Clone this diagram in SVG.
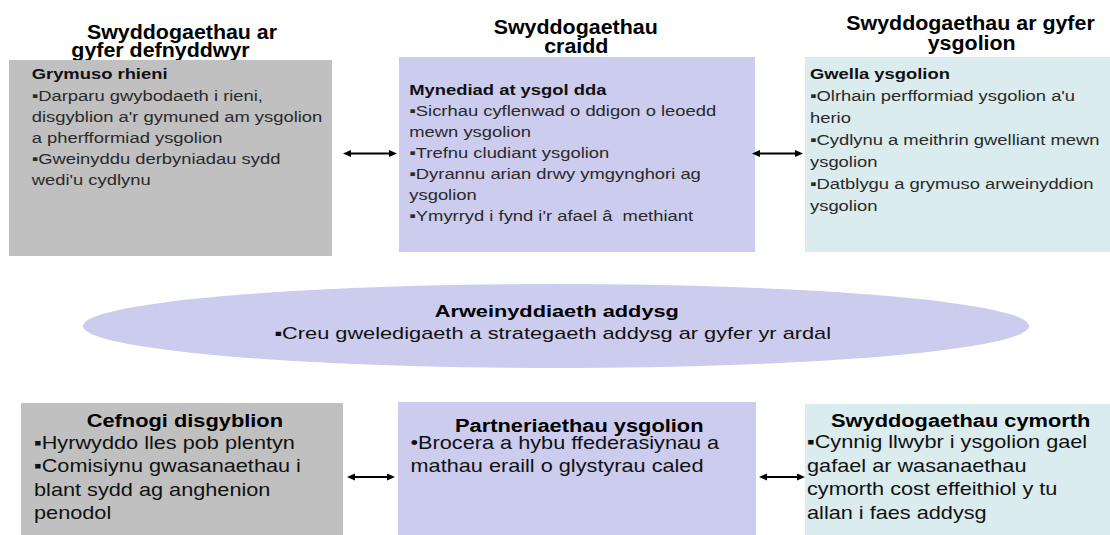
<svg xmlns="http://www.w3.org/2000/svg" width="1110" height="535" viewBox="0 0 1110 535">
  <defs>
    <style>
      text { font-family: "Liberation Sans", Arial, sans-serif; }
      .ttl { font-size: 20px; font-weight: bold; fill: #000; }
      .hd { font-size: 15px; font-weight: bold; fill: #111; }
      .bd { font-size: 15px; fill: #2a2a2a; }
      .hd2 { font-size: 18.5px; font-weight: bold; fill: #000; }
      .bd2 { font-size: 18.5px; fill: #111; }
      .elh { font-size: 17px; font-weight: bold; fill: #000; }
      .elb { font-size: 17px; fill: #111; }
      .grey { fill: #c0c0c0; }
      .lav { fill: #ccccee; }
      .cyan { fill: #daecee; }
      .link { stroke: #000; stroke-width: 2; fill: none; marker-start: url(#head); marker-end: url(#head); }
    </style>
    <marker id="head" markerUnits="userSpaceOnUse" markerWidth="9" markerHeight="8" refX="1" refY="3.5" orient="auto-start-reverse">
      <path d="M0,0 L8,3.5 L0,7 z" fill="#000"/>
    </marker>
  </defs>

  <rect width="1110" height="535" fill="#fff"/>

  <!-- column headings -->
  <g id="heading-users">
    <text class="ttl" transform="translate(182,39) scale(1.07,1)" text-anchor="middle">Swyddogaethau ar</text>
    <text class="ttl" transform="translate(160.5,57) scale(1.07,1)" text-anchor="middle">gyfer defnyddwyr</text>
  </g>
  <g id="heading-core">
    <text class="ttl" transform="translate(575.7,34) scale(1.07,1)" text-anchor="middle">Swyddogaethau</text>
    <text class="ttl" transform="translate(576.3,53) scale(1.07,1)" text-anchor="middle">craidd</text>
  </g>
  <g id="heading-schools">
    <text class="ttl" transform="translate(970.5,29.5) scale(1.07,1)" text-anchor="middle">Swyddogaethau ar gyfer</text>
    <text class="ttl" transform="translate(971.7,50) scale(1.07,1)" text-anchor="middle">ysgolion</text>
  </g>

  <!-- top row -->
  <g id="parents">
    <rect class="grey" x="9" y="60" width="323" height="196"/>
    <g transform="translate(31.7,0) scale(1.227,1)">
      <text class="hd" y="79">Grymuso rhieni</text>
      <text class="bd" y="101">▪Darparu gwybodaeth i rieni,</text>
      <text class="bd" y="122">disgyblion a'r gymuned am ysgolion</text>
      <text class="bd" y="143">a pherfformiad ysgolion</text>
      <text class="bd" y="164">▪Gweinyddu derbyniadau sydd</text>
      <text class="bd" y="185">wedi'u cydlynu</text>
    </g>
  </g>

  <g id="access">
    <rect class="lav" x="399" y="57" width="356" height="195"/>
    <g transform="translate(409.3,0) scale(1.227,1)">
      <text class="hd" y="95">Mynediad at ysgol dda</text>
      <text class="bd" y="116">▪Sicrhau cyflenwad o ddigon o leoedd</text>
      <text class="bd" y="137">mewn ysgolion</text>
      <text class="bd" y="158">▪Trefnu cludiant ysgolion</text>
      <text class="bd" y="179">▪Dyrannu arian drwy ymgynghori ag</text>
      <text class="bd" y="200">ysgolion</text>
      <text class="bd" y="221" xml:space="preserve">▪Ymyrryd i fynd i'r afael â  methiant</text>
    </g>
  </g>

  <g id="improve">
    <rect class="cyan" x="805" y="57" width="305" height="195"/>
    <g transform="translate(810,0) scale(1.227,1)">
      <text class="hd" y="79">Gwella ysgolion</text>
      <text class="bd" y="101">▪Olrhain perfformiad ysgolion a'u</text>
      <text class="bd" y="123">herio</text>
      <text class="bd" y="145">▪Cydlynu a meithrin gwelliant mewn</text>
      <text class="bd" y="167">ysgolion</text>
      <text class="bd" y="189">▪Datblygu a grymuso arweinyddion</text>
      <text class="bd" y="211">ysgolion</text>
    </g>
  </g>

  <!-- central leadership ellipse -->
  <g id="leadership">
    <ellipse class="lav" cx="556" cy="326" rx="473" ry="42"/>
    <text class="elh" transform="translate(556.8,317) scale(1.28,1)" text-anchor="middle">Arweinyddiaeth addysg</text>
    <text class="elb" transform="translate(552.7,338.5) scale(1.28,1)" text-anchor="middle">▪Creu gweledigaeth a strategaeth addysg ar gyfer yr ardal</text>
  </g>

  <!-- bottom row -->
  <g id="pupils">
    <rect class="grey" x="21" y="403" width="322" height="132"/>
    <text class="hd2" transform="translate(86.7,427) scale(1.18,1)">Cefnogi disgyblion</text>
    <g transform="translate(34,0) scale(1.173,1)">
      <text class="bd2" y="449">▪Hyrwyddo lles pob plentyn</text>
      <text class="bd2" y="472.5">▪Comisiynu gwasanaethau i</text>
      <text class="bd2" y="496">blant sydd ag anghenion</text>
      <text class="bd2" y="519.5">penodol</text>
    </g>
  </g>

  <g id="partnerships">
    <rect class="lav" x="398" y="402" width="358" height="133"/>
    <text class="hd2" transform="translate(455,432) scale(1.18,1)">Partneriaethau ysgolion</text>
    <g transform="translate(410.5,0) scale(1.173,1)">
      <text class="bd2" y="449">•Brocera a hybu ffederasiynau a</text>
      <text class="bd2" y="472.5">mathau eraill o glystyrau caled</text>
    </g>
  </g>

  <g id="support">
    <rect class="cyan" x="805" y="404" width="305" height="131"/>
    <text class="hd2" transform="translate(831,427) scale(1.18,1)">Swyddogaethau cymorth</text>
    <g transform="translate(807,0) scale(1.173,1)">
      <text class="bd2" y="448.5">▪Cynnig llwybr i ysgolion gael</text>
      <text class="bd2" y="472">gafael ar wasanaethau</text>
      <text class="bd2" y="495.5">cymorth cost effeithiol y tu</text>
      <text class="bd2" y="519">allan i faes addysg</text>
    </g>
  </g>

  <!-- two-way links between neighbouring boxes -->
  <g id="connectors">
    <line class="link" x1="350" y1="153.5" x2="390" y2="153.5"/>
    <line class="link" x1="759" y1="153.5" x2="796" y2="153.5"/>
    <line class="link" x1="354" y1="477" x2="388" y2="477"/>
    <line class="link" x1="766" y1="477" x2="798" y2="477"/>
  </g>
</svg>
